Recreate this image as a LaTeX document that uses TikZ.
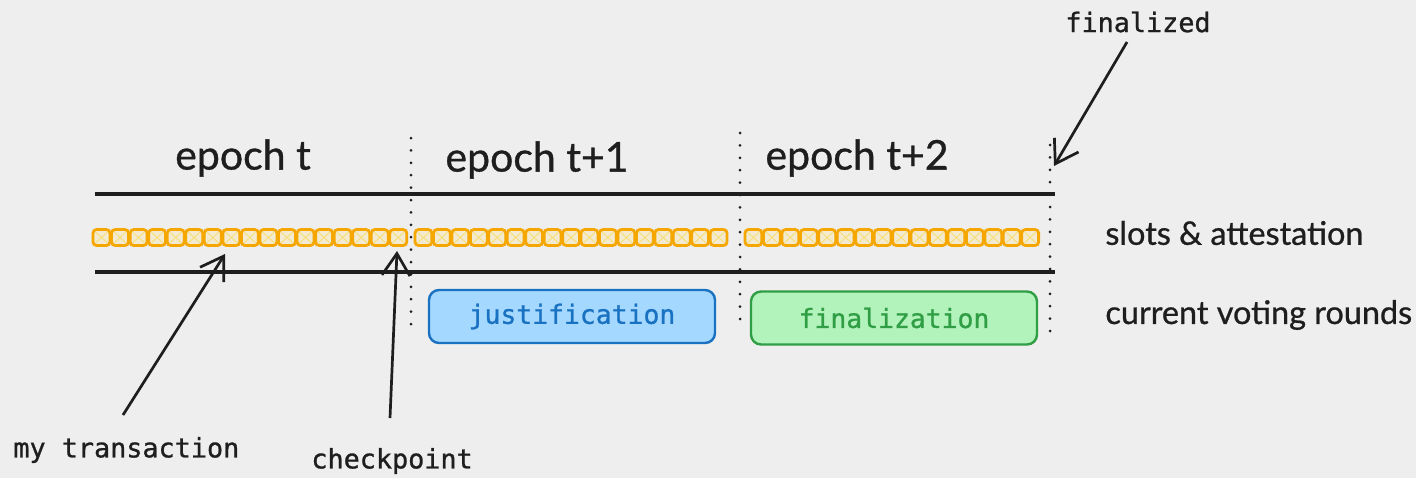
\documentclass[tikz,border=0pt]{standalone}
\usepackage{fontspec}
\setmainfont{Lato}[FakeBold=0.8]
\newfontfamily\monofam{DejaVu Sans Mono}[FakeBold=0.9]
\usetikzlibrary{arrows.meta}
\definecolor{bg}{HTML}{EEEEEE}
\definecolor{ink}{HTML}{1E1E1E}
\definecolor{slotline}{HTML}{F5A700}
\definecolor{slotfill}{HTML}{F2EBD2}
\definecolor{slothatch}{HTML}{F7DF7A}
\definecolor{jfill}{HTML}{A5D8FF}
\definecolor{jline}{HTML}{1971C2}
\definecolor{ffill}{HTML}{B2F2BB}
\definecolor{fline}{HTML}{2F9E44}
\tikzset{
  hand/.style={font=\fontsize{20.5}{22}\selectfont, text=ink, inner sep=0pt},
  side/.style={font=\fontsize{16.2}{18}\selectfont, text=ink, inner sep=0pt, anchor=west},
  mono/.style={font=\monofam\fontsize{13.4}{15}\selectfont, text=ink, inner sep=0pt},
  rail/.style={draw=ink, line width=1.7pt},
  divider/.style={draw=ink, line width=1.5pt, line cap=round, dash pattern=on 0pt off 6.2pt},
  pointer/.style={draw=ink, line width=1.35pt, -{Straight Barb[length=11pt,width=14pt,line width=1.35pt]}},
  roundbox/.style={rounded corners=5pt, line width=1.2pt, minimum width=143pt, minimum height=26.5pt, font=\monofam\fontsize{13.2}{15}\selectfont},
  slotbox/.style={draw=slotline, fill=slotfill, line width=1.4pt, rounded corners=1.8pt},
}
\newcommand{\slotrow}[3]{% start x, pitch, count
  \foreach \i in {1,...,#3}{
    \pgfmathsetmacro{\xa}{#1+(\i-1)*#2}
    \pgfmathsetmacro{\xb}{\xa+#2-1.6}
    \draw[slotbox] (\xa,229.5) rectangle (\xb,245.5);
    \draw[slothatch, line width=0.5pt] (\xa+3,232.5) -- (\xb-3,242.5) (\xa+3,242.5) -- (\xb-3,232.5);
  }
}
\begin{document}
\begin{tikzpicture}[x=0.5pt,y=-0.5pt]
\fill[bg] (0,0) rectangle (1416,478);
\useasboundingbox (0,0) rectangle (1416,478);

% epoch labels
\node[hand] (e0) at (243,158) {epoch t};
\node[hand] (e1) at (537,160) {epoch t+1};
\node[hand] (e2) at (857,158) {epoch t+2};

% rails
\coordinate (railTL) at (95,194);
\coordinate (railTR) at (1055,194);
\coordinate (railBL) at (95,272);
\coordinate (railBR) at (1055,272);
\draw[rail] (railTL) -- (railTR);
\draw[rail] (railBL) -- (railBR);

% slots
\slotrow{93}{18.55}{17}
\slotrow{415}{18.45}{17}
\slotrow{745}{18.45}{16}

% dividers
\coordinate (d1a) at (411,138); \coordinate (d1b) at (411,330);
\coordinate (d2a) at (740,133); \coordinate (d2b) at (740,330);
\coordinate (d3a) at (1050,145); \coordinate (d3b) at (1050,342);
\draw[divider] (d1a) -- (d1b);
\draw[divider] (d2a) -- (d2b);
\draw[divider] (d3a) -- (d3b);

% voting round boxes
\node[roundbox, draw=jline, fill=jfill, text=jline] (just) at (572,316.5) {justification};
\node[roundbox, draw=fline, fill=ffill, text=fline] (fin) at (894,318) {finalization};

% side labels
\node[side] (slots) at (1105,233) {slots \& attestation};
\node[side] (rounds) at (1105,315) {current voting rounds};

% pointer labels
\node[mono] (finalized) at (1138,22) {finalized};
\node[mono, anchor=west] (mytx) at (13,450) {my transaction};
\node[mono, anchor=west] (chk) at (311,461) {checkpoint};

% pointers
\coordinate (finS) at (1127,42);
\coordinate (finE) at (1054,166);
\coordinate (txS) at (123,415);
\coordinate (txE) at (225,254);
\coordinate (chkS) at (390,418);
\coordinate (chkE) at (397,251);
\draw[pointer] (finS) -- (finE);
\draw[pointer] (txS) -- (txE);
\draw[pointer] (chkS) -- (chkE);
\end{tikzpicture}
\end{document}
